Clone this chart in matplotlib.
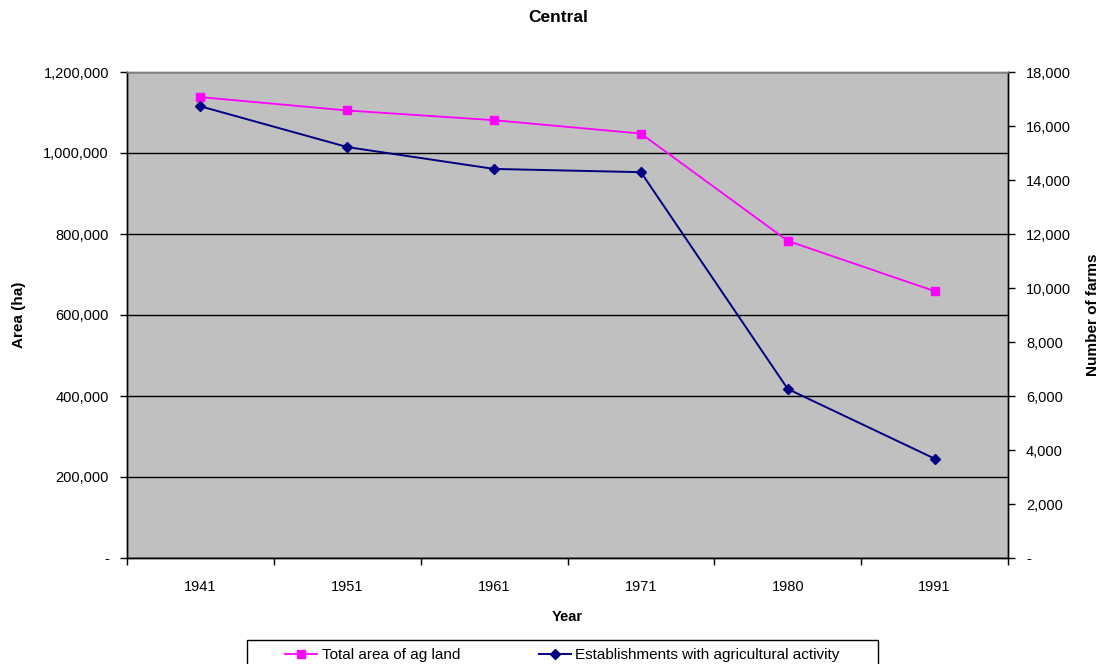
import matplotlib
matplotlib.use("Agg")
import matplotlib.pyplot as plt
from matplotlib.lines import Line2D
from matplotlib.patches import Rectangle
from matplotlib.ticker import FuncFormatter, FixedLocator, NullFormatter

plt.rcParams['font.family'] = ['Liberation Sans', 'DejaVu Sans']

years = ["1941", "1951", "1961", "1971", "1980", "1991"]
area_ha = [1138000, 1105000, 1081000, 1048000, 783000, 659000]
farms = [16730, 15220, 14410, 14290, 6260, 3680]

W, H = 1101, 664
fig = plt.figure(figsize=(W / 100, H / 100), dpi=100)
ax = fig.add_axes([127 / W, (H - 558) / H, (1008 - 127) / W, (558 - 72) / H])
ax2 = ax.twinx()

x = list(range(len(years)))

ax.set_facecolor("#C0C0C0")
ax.set_xlim(-0.5, len(years) - 0.5)
ax.set_ylim(0, 1200000)
ax2.set_ylim(0, 18000)

def acct(v, pos):
    return "-" if abs(v) < 1e-9 else f"{v:,.0f}"

ax.set_yticks(range(0, 1200001, 200000))
ax.yaxis.set_major_formatter(FuncFormatter(acct))
ax2.set_yticks(range(0, 18001, 2000))
ax2.yaxis.set_major_formatter(FuncFormatter(acct))

ax.set_xticks(x)
ax.set_xticklabels(years)
ax.xaxis.set_minor_locator(FixedLocator([i - 0.5 for i in range(len(years) + 1)]))
ax.xaxis.set_minor_formatter(NullFormatter())
ax.tick_params(axis="x", which="major", length=0, pad=15.5, labelsize=10.5)
ax.tick_params(axis="x", which="minor", length=5, width=1, color="black", direction="out")
ax.tick_params(axis="y", length=5, width=1, direction="out", labelsize=10.5, pad=8)
ax2.tick_params(axis="y", length=5, width=1, direction="out", labelsize=10.5, pad=8)

ax.yaxis.grid(True, color="black", linewidth=1)
ax.set_axisbelow(True)

for a in (ax, ax2):
    a.spines["top"].set_color("#808080")
    a.spines["left"].set_color("black")
    a.spines["right"].set_color("black")
    a.spines["bottom"].set_color("black")
    for s in a.spines.values():
        s.set_linewidth(1)

ax.plot(x, area_ha, color="#FF00FF", linewidth=1.3, marker="s", markersize=6.3,
        markeredgecolor="#FF00FF", markerfacecolor="#FF00FF", zorder=4, clip_on=False)
ax2.plot(x, farms, color="#000080", linewidth=1.4, marker="D", markersize=5.5,
         markeredgecolor="#000080", markerfacecolor="#000080", zorder=4, clip_on=False)

ax.set_ylabel("Area (ha)", fontsize=11, fontweight="bold", labelpad=12.5)
ax2.set_ylabel("Number of farms", fontsize=11, fontweight="bold", labelpad=11)
ax.set_xlabel("Year", fontsize=10.5, fontweight="bold", labelpad=12)
fig.text(558 / W, 1 - 17 / H, "Central", ha="center", va="center",
         fontsize=12.5, fontweight="bold")

handles = [
    Line2D([], [], color="#FF00FF", linewidth=1.3, marker="s", markersize=6.3),
    Line2D([], [], color="#000080", linewidth=1.4, marker="D", markersize=5.5),
]
labels = ["Total area of ag land", "Establishments with agricultural activity"]
fig.legend(handles, labels, ncol=2, loc="center left",
           bbox_to_anchor=(285 / W, (H - 655) / H), frameon=False,
           fontsize=11, handlelength=2.1, handletextpad=0.3,
           columnspacing=5.15, borderpad=0, borderaxespad=0)
fig.patches.append(Rectangle((247 / W, -0.02), (878 - 247) / W, 0.02 + (H - 639.5) / H,
                             transform=fig.transFigure, fill=False,
                             edgecolor="black", linewidth=1))

fig.savefig("out.png", dpi=100)
